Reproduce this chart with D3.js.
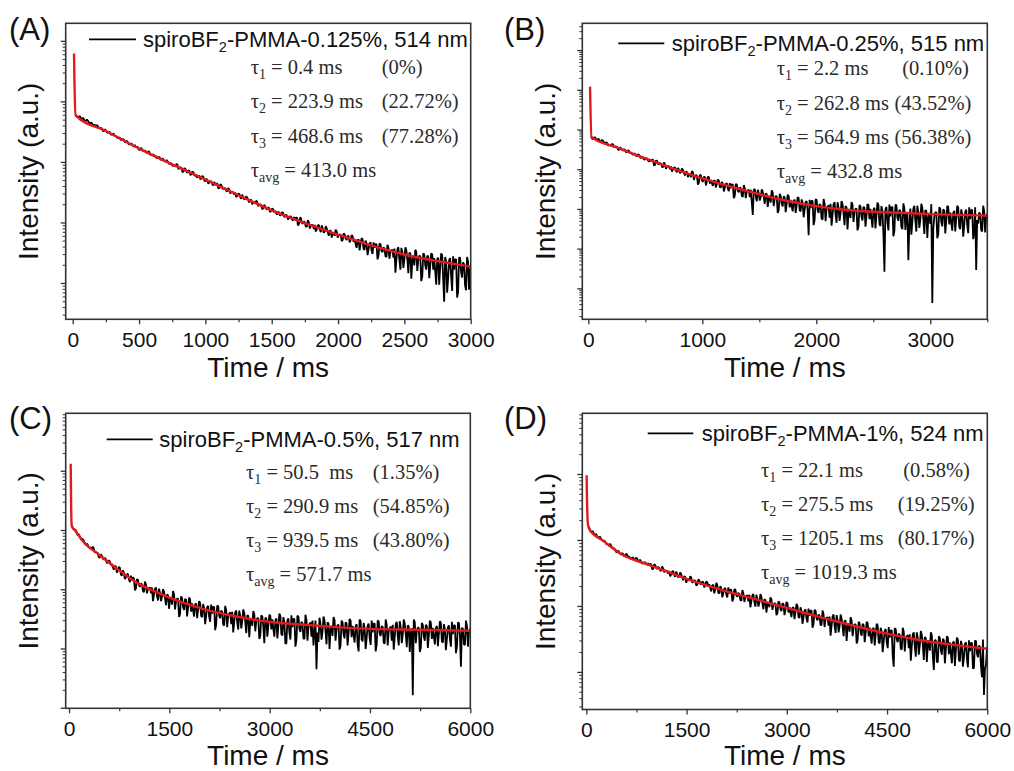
<!DOCTYPE html>
<html><head><meta charset="utf-8">
<script src="https://cdn.jsdelivr.net/npm/d3@7"></script>
<style>body{margin:0;background:#fff}svg{display:block}text{white-space:pre}</style>
</head><body>
<svg id="chart" width="1014" height="771"></svg>
<script>
// ================= DATA (intensity stored as log10 of arbitrary units) =================
// Each decay is sampled on two interleaved time grids: start + i*step and start + step/2 + i*step.
// Panel A : spiroBF2-PMMA-0.125%
const decayStartA = 25, decayStepA = 15;
const decayLogA = [
 3.78,3.74,3.75,3.70,3.70,3.68,3.68,3.63,3.64,3.61, 3.59,3.59,3.56,3.55,3.51,3.52,3.48,3.49,3.45,3.46,
 3.43,3.39,3.40,3.37,3.37,3.32,3.32,3.29,3.30,3.25, 3.25,3.25,3.20,3.22,3.18,3.18,3.14,3.15,3.12,3.12,
 3.10,3.07,3.08,3.03,3.03,3.01,3.01,2.96,2.97,2.95, 2.92,2.95,2.90,2.90,2.84,2.88,2.82,2.85,2.80,2.83,
 2.79,2.74,2.77,2.73,2.75,2.68,2.70,2.66,2.68,2.61, 2.62,2.64,2.57,2.62,2.55,2.56,2.51,2.54,2.50,2.50,
 2.49,2.44,2.48,2.39,2.42,2.39,2.41,2.33,2.37,2.33, 2.31,2.34,2.29,2.29,2.23,2.27,2.21,2.24,2.19,2.22,
 2.19,2.13,2.17,2.13,2.16,2.09,2.11,2.07,2.10,2.03, 2.04,2.08,1.97,2.07,1.98,2.00,1.93,2.00,1.95,1.96,
 1.96,1.89,1.96,1.84,1.90,1.85,1.90,1.78,1.86,1.82, 1.78,1.85,1.79,1.80,1.71,1.80,1.71,1.77,1.71,1.77,
 1.73,1.58,1.72,1.65,1.72,1.55,1.65,1.56,1.67,1.48, 1.58,1.64,1.45,1.64,1.51,1.57,1.43,1.58,1.52,1.55,
 1.57,1.39,1.59,1.22,1.50,1.39,1.54,1.16,1.49,1.38, 1.29,1.51,1.39,1.44,1.11,1.47,1.22,1.44,1.29,1.47,
 1.41,0.97,1.42,1.26,1.46,0.69,1.35,1.08,1.41,0.87, 1.22,1.39,0.85,1.42,1.09,1.31,0.88,1.35,1.22,1.31];
const decayLogA2 = [
 3.74,3.75,3.72,3.73,3.68,3.70,3.65,3.65,3.60,3.61, 3.61,3.56,3.56,3.51,3.54,3.49,3.50,3.45,3.47,3.43,
 3.41,3.40,3.36,3.38,3.33,3.35,3.29,3.30,3.27,3.28, 3.25,3.20,3.23,3.19,3.19,3.15,3.18,3.11,3.12,3.09,
 3.06,3.08,3.04,3.06,3.01,3.03,2.99,2.98,2.93,2.94, 2.97,2.88,2.91,2.83,2.90,2.84,2.86,2.78,2.84,2.77,
 2.76,2.77,2.71,2.77,2.69,2.72,2.64,2.68,2.63,2.67, 2.64,2.56,2.63,2.57,2.57,2.52,2.57,2.48,2.50,2.46,
 2.42,2.47,2.42,2.46,2.38,2.43,2.37,2.38,2.30,2.34, 2.36,2.27,2.30,2.22,2.29,2.23,2.25,2.17,2.23,2.17,
 2.16,2.17,2.11,2.17,2.10,2.13,2.05,2.10,2.05,2.09, 2.08,1.95,2.08,1.99,2.02,1.93,2.04,1.90,1.96,1.89,
 1.85,1.95,1.88,1.95,1.83,1.94,1.84,1.87,1.75,1.83, 1.88,1.75,1.80,1.69,1.82,1.73,1.78,1.67,1.79,1.68,
 1.64,1.71,1.54,1.74,1.56,1.70,1.46,1.65,1.54,1.67, 1.64,1.39,1.65,1.53,1.59,1.44,1.63,1.40,1.54,1.42,
 1.17,1.56,1.38,1.58,1.25,1.59,1.39,1.50,1.07,1.45, 1.55,1.20,1.45,1.03,1.49,1.29,1.45,1.08,1.49,1.22,
 1.20,1.39,0.97,1.49,1.07,1.43,0.84,1.38,1.11,1.44, 1.39,0.76,1.42,1.19,1.34,0.96,1.43,0.89,1.28,0.99];
const fitTimeA = [10,10.5,22,250,500,750,1000,1250,1500,1750,2000,2250,2500,2750,3000];
const fitLogA  = [4.79,4.70,3.77,3.51,3.22,2.96,2.71,2.45,2.20,1.99,1.80,1.62,1.47,1.36,1.27];

// Panel B : spiroBF2-PMMA-0.25%
const decayStartB = 25, decayStepB = 17.5;
const decayLogB = [
 3.83,3.77,3.80,3.71,3.74,3.70,3.71,3.63,3.66,3.61, 3.59,3.62,3.57,3.56,3.49,3.53,3.47,3.49,3.44,3.46,
 3.42,3.36,3.39,3.34,3.36,3.28,3.29,3.25,3.27,3.19, 3.20,3.24,3.11,3.21,3.12,3.14,3.05,3.12,3.06,3.08,
 3.07,2.99,3.05,2.92,2.98,2.94,2.98,2.84,2.93,2.87, 2.80,2.92,2.83,2.84,2.66,2.84,2.68,2.80,2.70,2.80,
 2.73,2.58,2.72,2.64,2.71,2.54,2.63,2.54,2.65,2.45, 2.52,2.61,2.34,2.61,2.42,2.52,2.30,2.52,2.44,2.48,
 2.48,1.85,2.50,2.19,2.40,2.30,2.43,2.13,2.37,2.28, 2.16,2.41,2.26,2.32,1.97,2.33,2.06,2.29,2.13,2.32,
 2.23,1.94,2.23,2.10,2.27,1.94,2.15,1.98,2.20,1.34, 2.02,2.20,1.72,2.23,1.90,2.09,1.73,2.14,2.00,2.09,
 2.13,1.86,2.17,1.65,2.03,1.88,2.12,1.59,2.04,1.90, 1.77,2.11,1.92,2.01,1.56,2.06,1.71,2.03,1.82,2.10,
 2.00,1.53,2.03,1.83,2.10,1.57,1.94,0.42,2.05,1.46, 1.81,2.05,1.45,2.10,1.70,1.94,1.49,2.01,1.84,0.71,
 2.01,1.68,2.08,1.43,1.92,1.73,2.03,1.37,1.95,1.77, 1.62,-0.37,1.81,1.92,1.36,2.00,1.56,1.96,1.70,2.05,
 1.91,1.45,1.95,1.75,2.03,1.49,1.86,1.59,1.98,1.39, 1.74,1.98,1.39,0.46,1.63,1.87,1.43,1.95,1.78,1.91];
const decayLogB2 = [
 3.76,3.80,3.75,3.77,3.69,3.74,3.67,3.68,3.59,3.61, 3.64,3.55,3.57,3.49,3.55,3.49,3.50,3.42,3.48,3.40,
 3.39,3.39,3.33,3.38,3.30,3.32,3.24,3.27,3.22,3.25, 3.24,3.09,3.22,3.13,3.16,3.06,3.17,3.01,3.07,3.00,
 2.94,3.04,2.96,3.03,2.90,3.02,2.91,2.94,2.80,2.89, 2.95,2.73,2.85,2.61,2.86,2.72,2.81,2.59,2.81,2.64,
 2.65,2.71,2.54,2.74,2.55,2.68,2.44,2.63,2.51,2.65, 2.62,2.27,2.63,2.46,2.54,2.33,2.60,2.27,2.47,2.30,
 2.17,2.48,2.32,2.48,2.21,2.49,2.30,2.39,2.05,2.33, 2.47,2.07,2.32,1.90,2.38,2.13,2.32,1.92,2.36,2.04,
 2.07,2.21,1.90,2.30,1.97,2.24,1.79,2.17,1.96,2.23, 2.20,1.59,2.24,1.97,2.12,1.76,2.25,1.69,2.06,1.78,
 1.58,2.12,1.86,2.17,1.70,2.20,1.89,2.07,1.48,2.00, 2.17,1.67,2.00,1.46,2.10,1.80,2.05,1.55,2.12,1.74,
 1.76,1.98,1.51,2.16,1.62,2.07,1.38,1.99,1.67,2.11, 2.04,1.31,2.10,1.78,1.98,1.54,2.14,1.47,1.92,1.59,
 1.35,2.01,1.70,2.08,1.52,2.13,1.75,1.97,1.27,1.90, 2.12,1.51,1.91,1.26,2.04,1.68,1.99,1.38,2.08,1.61,
 1.67,1.90,1.43,2.08,1.55,1.99,1.30,1.92,1.60,2.04, 1.97,1.24,2.04,1.72,1.91,1.47,2.08,1.41,1.86,1.53];
const fitTimeB = [15,15.5,28,250,500,750,1000,1250,1500,1750,2000,2250,2500,2750,3000,3250,3500];
const fitLogB  = [5.08,5.00,3.81,3.55,3.27,3.01,2.77,2.56,2.37,2.20,2.07,1.98,1.93,1.90,1.87,1.85,1.83];

// Panel C : spiroBF2-PMMA-0.5%
const decayStartC = 40, decayStepC = 30;
const decayLogC = [
 3.08,3.02,3.00,2.91,2.89,2.83,2.82,2.75,2.75,2.71, 2.67,2.69,2.63,2.61,2.53,2.57,2.50,2.51,2.46,2.47,
 2.43,2.33,2.39,2.32,2.36,2.23,2.28,2.20,2.26,2.12, 2.15,2.18,2.01,2.16,2.04,2.08,1.95,2.08,2.01,2.03,
 2.03,1.91,2.03,1.81,1.94,1.87,1.96,1.73,1.90,1.83, 1.74,1.91,1.80,1.84,1.58,1.85,1.65,1.82,1.69,1.83,
 1.76,1.54,1.76,1.66,1.77,1.53,1.68,1.55,1.72,1.45, 1.59,1.70,1.40,1.72,1.51,1.62,1.39,1.64,1.56,1.61,
 1.62,1.45,1.64,1.32,1.55,1.46,1.60,1.26,1.55,1.45, 1.38,1.58,1.46,1.51,1.22,1.54,1.09,1.51,1.38,1.55,
 1.49,1.20,1.51,1.38,1.55,1.22,1.44,1.09,1.51,1.15, 1.36,1.50,1.14,1.54,1.28,1.43,1.16,1.48,1.36,1.44,
 1.47,1.27,0.65,1.11,1.41,1.28,1.47,1.07,1.42,1.31, 1.21,1.48,1.33,1.40,1.05,1.44,1.17,1.42,1.26,1.47,
 1.38,1.10,1.41,0.95,1.46,1.12,1.34,1.18,1.42,1.06, 1.27,1.42,1.06,1.46,1.21,1.36,1.08,1.40,1.29,1.37,
 1.40,1.20,1.45,1.05,1.35,1.23,1.42,1.02,1.37,1.26, 0.21,1.44,1.29,1.35,1.01,1.40,1.13,1.38,1.22,1.44,
 1.35,1.07,1.38,1.25,1.43,1.10,1.32,1.16,1.39,1.03, 1.24,1.39,1.03,1.43,0.69,1.33,1.06,1.38,1.27,1.35];
const decayLogC2 = [
 3.03,3.01,2.95,2.93,2.85,2.85,2.78,2.77,2.70,2.70, 2.72,2.62,2.62,2.54,2.59,2.52,2.53,2.44,2.49,2.41,
 2.37,2.39,2.28,2.38,2.25,2.32,2.17,2.25,2.17,2.23, 2.20,1.98,2.17,2.07,2.10,1.97,2.13,1.93,2.02,1.93,
 1.80,2.01,1.89,2.01,1.80,2.00,1.85,1.91,1.67,1.86, 1.97,1.66,1.84,1.53,1.88,1.70,1.84,1.54,1.86,1.62,
 1.64,1.74,1.51,1.80,1.55,1.75,1.41,1.70,1.54,1.74, 1.70,1.31,1.72,1.55,1.64,1.40,1.72,1.36,1.59,1.41,
 1.27,1.61,1.44,1.64,1.34,1.66,1.45,1.56,1.19,1.51, 1.63,1.29,1.51,1.16,1.56,1.37,1.52,1.20,1.57,1.32,
 1.33,1.47,1.17,1.59,1.24,1.53,1.08,1.47,1.27,1.56, 1.50,1.03,1.55,1.33,1.45,1.17,1.57,1.13,1.41,1.20,
 1.05,1.47,1.27,1.52,1.15,1.54,1.29,1.44,0.99,1.38, 1.53,1.13,1.39,0.98,1.47,1.24,1.44,1.05,1.50,1.19,
 1.23,1.37,1.07,1.49,1.15,1.43,0.99,1.38,1.18,1.47, 1.42,0.95,1.47,1.25,1.38,1.10,1.49,1.05,1.34,1.13,
 0.98,1.41,1.21,1.46,1.09,1.49,1.24,1.39,0.94,1.34, 1.49,1.09,1.35,0.94,1.43,1.20,1.40,1.01,1.47,1.16,
 1.20,1.34,1.04,1.46,1.12,1.41,0.97,1.36,1.16,1.45, 1.39,0.92,1.44,1.22,1.35,1.07,1.47,1.03,1.32,1.11];
const fitTimeC = [25,25.5,40,100,215,464,713,1000,1250,1500,2000,2500,3000,3500,4000,4500,5000,6000];
const fitLogC  = [4.12,4.05,3.07,2.98,2.80,2.57,2.35,2.12,1.98,1.86,1.67,1.54,1.45,1.40,1.36,1.33,1.32,1.30];

// Panel D : spiroBF2-PMMA-1%
const decayStartD = 40, decayStepD = 30;
const decayLogD = [
 2.20,2.12,2.13,2.08,2.06,2.04,2.02,1.98,1.98,1.94, 1.91,1.92,1.88,1.86,1.81,1.82,1.78,1.79,1.76,1.78,
 1.75,1.71,1.73,1.71,1.72,1.68,1.67,1.65,1.66,1.62, 1.61,1.63,1.56,1.62,1.56,1.58,1.53,1.57,1.54,1.53,
 1.53,1.48,1.53,1.44,1.48,1.45,1.48,1.39,1.44,1.40, 1.38,1.43,1.38,1.38,1.32,1.39,1.32,1.36,1.32,1.36,
 1.33,1.22,1.32,1.26,1.32,1.19,1.26,1.19,1.27,1.13, 1.19,1.24,1.11,1.25,1.14,1.18,1.08,1.19,1.14,1.16,
 1.17,1.07,1.18,0.99,1.10,1.05,1.14,0.95,1.09,1.03, 0.98,1.10,1.02,1.04,0.89,1.05,0.92,1.03,0.94,1.04,
 0.98,0.83,0.98,0.91,1.00,0.82,0.92,0.83,0.95,0.75, 0.85,0.93,0.73,0.93,0.78,0.85,0.71,0.87,0.80,0.83,
 0.84,0.70,0.87,0.59,0.78,0.69,0.81,0.54,0.77,0.68, 0.61,0.78,0.68,0.72,0.48,0.73,0.55,0.71,0.59,0.74,
 0.67,0.43,0.67,0.57,0.70,0.43,0.60,0.47,0.65,0.36, 0.52,0.63,0.08,0.65,0.45,0.56,0.34,0.61,0.51,0.56,
 0.57,0.39,0.60,0.23,0.51,0.40,0.56,0.18,0.51,0.41, 0.32,0.55,0.03,0.48,0.15,0.51,0.26,0.48,0.34,0.52,
 0.45,0.13,0.46,0.33,0.49,0.16,0.40,0.22,0.45,0.07, 0.31,0.44,0.06,0.47,0.22,0.38,-0.08,-0.35,0.10,0.38];
const decayLogD2 = [
 2.14,2.13,2.09,2.09,2.04,2.05,2.00,1.99,1.94,1.93, 1.94,1.88,1.87,1.82,1.84,1.79,1.80,1.76,1.79,1.74,
 1.73,1.73,1.70,1.73,1.68,1.70,1.64,1.66,1.64,1.65, 1.64,1.56,1.63,1.58,1.59,1.54,1.60,1.51,1.53,1.49,
 1.45,1.52,1.47,1.52,1.43,1.51,1.43,1.45,1.35,1.41, 1.45,1.35,1.39,1.31,1.40,1.34,1.37,1.28,1.37,1.29,
 1.27,1.31,1.19,1.35,1.20,1.30,1.13,1.26,1.17,1.28, 1.25,1.07,1.25,1.16,1.20,1.09,1.24,1.06,1.15,1.07,
 0.98,1.16,1.06,1.17,0.99,1.18,1.04,1.10,0.90,1.05, 1.13,0.94,1.04,0.86,1.07,0.95,1.04,0.86,1.06,0.90,
 0.90,0.97,0.80,1.03,0.83,0.98,0.73,0.93,0.81,0.96, 0.93,0.67,0.94,0.81,0.87,0.71,0.93,0.68,0.82,0.70,
 0.55,0.84,0.70,0.86,0.60,0.87,0.69,0.78,0.47,0.73, 0.83,0.54,0.72,0.43,0.76,0.59,0.73,0.45,0.76,0.54,
 0.54,0.65,0.40,0.73,0.45,0.67,0.30,0.62,0.45,0.68, 0.63,0.24,0.66,0.49,0.58,0.35,0.67,0.31,0.54,0.36,
 0.17,0.57,0.39,0.60,0.26,0.62,0.40,0.53,0.15,0.48, 0.60,0.23,0.48,0.15,0.54,0.33,0.50,0.13,0.54,0.27,
 0.28,0.44,0.09,0.52,0.18,0.47,0.08,0.42,0.20,0.48, 0.44,0.05,0.47,0.28,0.40,0.09,0.49,0.04,0.36,0.12];
const fitTimeD = [5,5.5,25,60,250,500,1000,1500,2000,2500,3000,3500,4000,4500,5000,5500,6000];
const fitLogD  = [2.98,2.92,2.23,2.14,1.99,1.80,1.60,1.41,1.25,1.11,0.97,0.83,0.70,0.58,0.48,0.41,0.35];

// Texts
const panelLabels = ["(A)","(B)","(C)","(D)"];
const legendA = ["spiroBF","2","-PMMA-0.125%, 514 nm"];
const legendB = ["spiroBF","2","-PMMA-0.25%, 515 nm"];
const legendC = ["spiroBF","2","-PMMA-0.5%, 517 nm"];
const legendD = ["spiroBF","2","-PMMA-1%, 524 nm"];
const tauA = [["1"," = 0.4 ms","(0%)"],["2"," = 223.9 ms","(22.72%)"],["3"," = 468.6 ms","(77.28%)"],["avg"," = 413.0 ms",""]];
const tauB = [["1"," = 2.2 ms","(0.10%)"],["2"," = 262.8 ms","(43.52%)"],["3"," = 564.9 ms","(56.38%)"],["avg"," = 432.8 ms",""]];
const tauC = [["1"," = 50.5  ms","(1.35%)"],["2"," = 290.9 ms","(54.85%)"],["3"," = 939.5 ms","(43.80%)"],["avg"," = 571.7 ms",""]];
const tauD = [["1"," = 22.1 ms","(0.58%)"],["2"," = 275.5 ms","(19.25%)"],["3"," = 1205.1 ms","(80.17%)"],["avg"," = 1019.3 ms",""]];
const xTitle = "Time / ms";
const yTitle = "Intensity (a.u.)";

// Tick values
const xTicksA = [0,500,1000,1500,2000,2500,3000], xMinorA = [250,750,1250,1750,2250,2750];
const xTicksB = [0,1000,2000,3000], xMinorB = [500,1500,2500,3500];
const xTicksC = [0,1500,3000,4500,6000], xMinorC = [750,2250,3750,5250];
const xTicksD = [0,1500,3000,4500,6000], xMinorD = [750,2250,3750,5250];

// ================= LAYOUT =================
const panels = [
 {label:panelLabels[0], lab:[9,39.5], l:65.7,t:23.3,r:470.7,b:319.3, xTY:376.5, xDom:[-53,3000], yLog:[0.40,5.29],
  start:decayStartA, step:decayStepA, decay:decayLogA, decay2:decayLogA2, fitT:fitTimeA, fitL:fitLogA,
  xt:xTicksA, xm:xMinorA, legend:legendA, legLine:[89,136,39.3], legText:[143,46.7],
  tau:tauA, tauX:250.7, tauY:[74,108.3,143.3,176.7], pctX:[381.7,381.7,381.7]},
 {label:panelLabels[1], lab:[504,39.5], l:582.3,t:23.3,r:987.3,b:319.3, xTY:376.5, xDom:[-53,3500], yLog:[-0.78,6.675],
  start:decayStartB, step:decayStepB, decay:decayLogB, decay2:decayLogB2, fitT:fitTimeB, fitL:fitLogB,
  xt:xTicksB, xm:xMinorB, legend:legendB, legLine:[618.3,664.3,43.3], legText:[671.7,50.5],
  tau:tauB, tauX:776.7, tauY:[75,110,144,178.3], pctX:[902.3,894.5,894.5]},
 {label:panelLabels[2], lab:[9,429], l:65.7,t:413.3,r:470.3,b:708.3, xTY:764.5, xDom:[-50,6000], yLog:[-0.01,4.97],
  start:decayStartC, step:decayStepC, decay:decayLogC, decay2:decayLogC2, fitT:fitTimeC, fitL:fitLogC,
  xt:xTicksC, xm:xMinorC, legend:legendC, legLine:[106.7,152.7,439.3], legText:[159.3,446.5],
  tau:tauC, tauX:246, tauY:[479.3,513.3,546.7,580.7], pctX:[372.7,372.7,372.7]},
 {label:panelLabels[3], lab:[504,429], l:582.3,t:413.3,r:987.3,b:709.5, xTY:764.5, xDom:[-60,6000], yLog:[-0.57,3.92],
  start:decayStartD, step:decayStepD, decay:decayLogD, decay2:decayLogD2, fitT:fitTimeD, fitL:fitLogD,
  xt:xTicksD, xm:xMinorD, legend:legendD, legLine:[647.7,693.3,433.3], legText:[701.7,440.7],
  tau:tauD, tauX:761, tauY:[477.3,510.7,545,579], pctX:[903.3,897.7,897.7]}
];

const SANS = "'Liberation Sans', Arial, sans-serif";
const SERIF = "'Liberation Serif', 'Times New Roman', serif";
const svg = d3.select("#chart");

panels.forEach((p, idx) => {
  const g = svg.append("g");
  const x = d3.scaleLinear().domain(p.xDom).range([p.l, p.r]);
  const y = d3.scaleLog().domain([Math.pow(10,p.yLog[0]), Math.pow(10,p.yLog[1])]).range([p.b, p.t]);
  const clipId = "clip" + idx;
  svg.append("clipPath").attr("id", clipId).append("rect")
    .attr("x", p.l).attr("y", p.t).attr("width", p.r - p.l).attr("height", p.b - p.t);

  const decayPts = p.decay.map((v,i) => [p.start + i*p.step, Math.pow(10, v)])
    .concat(p.decay2.map((v,i) => [p.start + p.step/2 + i*p.step, Math.pow(10, v)]))
    .sort((a,b) => a[0] - b[0]);
  const fitPts = p.fitT.map((t,i) => [t, Math.pow(10, p.fitL[i])]);

  g.append("path").attr("clip-path", `url(#${clipId})`)
    .attr("d", d3.line().x(d => x(d[0])).y(d => y(d[1]))(decayPts))
    .attr("fill","none").attr("stroke","#000").attr("stroke-width",1.8).attr("stroke-linejoin","bevel");
  g.append("path").attr("clip-path", `url(#${clipId})`)
    .attr("d", d3.line().x(d => x(d[0])).y(d => y(d[1])).curve(d3.curveMonotoneX)(fitPts))
    .attr("fill","none").attr("stroke","#e31a1c").attr("stroke-width",2.4);

  // X axis
  const xa = g.append("g").attr("transform", `translate(0,${p.b})`)
    .call(d3.axisBottom(x).tickValues(p.xt).tickSize(5).tickPadding(7.4).tickFormat(d3.format("d")));
  xa.select(".domain").remove();
  xa.selectAll("line").attr("stroke","#333").attr("stroke-width",1.3);
  xa.selectAll("text").attr("font-family", SANS).attr("font-size", 21).attr("fill","#111");
  const xm = g.append("g").attr("transform", `translate(0,${p.b})`)
    .call(d3.axisBottom(x).tickValues(p.xm).tickSize(3).tickFormat(""));
  xm.select(".domain").remove();
  xm.selectAll("line").attr("stroke","#333").attr("stroke-width",1.2);

  // Y axis (log, no labels)
  const lo = p.yLog[0], hi = p.yLog[1];
  const majors = d3.range(Math.ceil(lo), Math.floor(hi) + 1).map(k => Math.pow(10,k));
  const minors = [];
  for (let k = Math.floor(lo); k <= Math.ceil(hi); k++)
    for (let m = 2; m <= 9; m++) { const v = m*Math.pow(10,k); const lv = Math.log10(v); if (lv >= lo && lv <= hi) minors.push(v); }
  const ya = g.append("g").attr("transform", `translate(${p.l},0)`)
    .call(d3.axisLeft(y).tickValues(majors).tickSize(5).tickFormat(""));
  ya.select(".domain").remove();
  ya.selectAll("line").attr("stroke","#333").attr("stroke-width",1.3);
  const ym = g.append("g").attr("transform", `translate(${p.l},0)`)
    .call(d3.axisLeft(y).tickValues(minors).tickSize(3).tickFormat(""));
  ym.select(".domain").remove();
  ym.selectAll("line").attr("stroke","#333").attr("stroke-width",1);

  // frame
  g.append("rect").attr("x",p.l).attr("y",p.t).attr("width",p.r-p.l).attr("height",p.b-p.t)
    .attr("fill","none").attr("stroke","#333").attr("stroke-width",1.6);

  // titles
  g.append("text").attr("x",(p.l+p.r)/2).attr("y",p.xTY).attr("text-anchor","middle")
    .attr("font-family",SANS).attr("font-size",28).attr("fill","#111").text(xTitle);
  g.append("text").attr("transform",`translate(${p.l-37.5},${(p.t+p.b)/2}) rotate(-90)`)
    .attr("text-anchor","middle").attr("dy","0.35em")
    .attr("font-family",SANS).attr("font-size",28).attr("fill","#111").text(yTitle);

  // panel label
  svg.append("text").attr("x",p.lab[0]).attr("y",p.lab[1]).attr("font-family",SANS)
    .attr("font-size",31).attr("fill","#111").text(p.label);

  // legend
  g.append("line").attr("x1",p.legLine[0]).attr("x2",p.legLine[1]).attr("y1",p.legLine[2]).attr("y2",p.legLine[2])
    .attr("stroke","#000").attr("stroke-width",1.8);
  const lt = g.append("text").attr("x",p.legText[0]).attr("y",p.legText[1])
    .attr("font-family",SANS).attr("font-size",22).attr("fill","#111");
  lt.append("tspan").text(p.legend[0]);
  lt.append("tspan").attr("font-size",14.5).attr("dy",5).text(p.legend[1]);
  lt.append("tspan").attr("dy",-5).text(p.legend[2]);

  // tau lines
  p.tau.forEach((row, i) => {
    const t = g.append("text").attr("x",p.tauX).attr("y",p.tauY[i])
      .attr("font-family",SERIF).attr("font-size",20.5).attr("fill","#2a2a2a");
    t.append("tspan").text("\u03c4");
    t.append("tspan").attr("font-size",14).attr("dy",5).text(row[0]);
    t.append("tspan").attr("dy",-5).text(row[1]);
    if (row[2]) g.append("text").attr("x",p.pctX[i]).attr("y",p.tauY[i])
      .attr("font-family",SERIF).attr("font-size",20.5).attr("fill","#2a2a2a").text(row[2]);
  });
});
</script>
</body></html>
